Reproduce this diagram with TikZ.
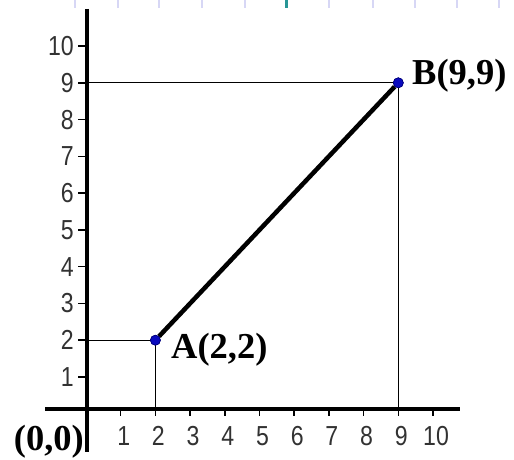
\documentclass[tikz,border=0pt]{standalone}
\usepackage{fontspec}
\setmainfont{Liberation Serif}
\newfontfamily\numfont{Liberation Sans}
\definecolor{dotblue}{RGB}{10,10,190}
\definecolor{dotedge}{RGB}{0,0,120}
\definecolor{numgray}{RGB}{50,50,50}
\definecolor{lavender}{RGB}{215,215,245}
\definecolor{tealmark}{RGB}{40,150,150}
\newcommand{\tallnum}[1]{\scalebox{1.05}[1.25]{#1}}
\begin{document}
\begin{tikzpicture}[x=1pt,y=-1pt,
  axisline/.style={line width=3.3pt,black},
  guide/.style={line width=1.2pt,black},
  tickmark/.style={line width=1.5pt,black},
  seg/.style={line width=4.5pt,black},
  dot/.style={circle,fill=dotblue,draw=dotedge,line width=0.6pt,inner sep=0pt,minimum size=10pt},
  numlab/.style={font=\numfont\fontsize{22}{24}\selectfont,text=numgray,inner sep=0pt},
  ptlab/.style={font=\bfseries\fontsize{36.5}{40}\selectfont,inner sep=0pt},
  topdash/.style={line width=2pt,draw=lavender}
]
\useasboundingbox (0,0) rectangle (514,460);
% faint marks along the top edge
\foreach \xx in {75,118,159,202,245,329,373,415,457,499}
  \draw[topdash] (\xx,0) -- (\xx,8);
\draw[line width=3pt,draw=tealmark] (286,0) -- (286,8);
% axes
\coordinate (O) at (87,409);
\coordinate (ytop) at (87,9);
\coordinate (ybot) at (87,452);
\coordinate (xleft) at (45,409);
\coordinate (xright) at (460,409);
\draw[axisline] (ytop) -- (ybot);
\draw[axisline] (xleft) -- (xright);
% ticks and numbers
\foreach \i in {1,...,10} {
  \pgfmathsetmacro{\xx}{86+34.7*\i}
  \pgfmathsetmacro{\yy}{413.8-36.78*\i}
  \coordinate (xt\i) at (\xx,409);
  \coordinate (yt\i) at (87,\yy);
  \draw[tickmark] (xt\i) -- ++(0,7);
  \draw[tickmark] (yt\i) -- ++(-9,0);
  \node[numlab] (xl\i) at (\xx+3,436) {\tallnum{\i}};
  \node[numlab,anchor=east] (yl\i) at (74,\yy) {\tallnum{\i}};
}
% points
\node[dot] (A) at (155.4,340.2) {};
\node[dot] (B) at (398.3,82.8) {};
% guide lines
\draw[guide] (A.center) -- (A.center -| O);
\draw[guide] (A.center) -- (A.center |- O);
\draw[guide] (B.center) -- (B.center -| O);
\draw[guide] (B.center) -- (B.center |- O);
% segment
\draw[seg] (A) -- (B);
\node[dot] at (A.center) {};
\node[dot] at (B.center) {};
% labels
\node[ptlab,anchor=west] (Alab) at (171,350) {A(2,2)};
\node[ptlab,anchor=west] (Blab) at (412,76) {B(9,9)};
\node[ptlab,anchor=east] (Olab) at (84,442) {(0,0)};
\end{tikzpicture}
\end{document}
